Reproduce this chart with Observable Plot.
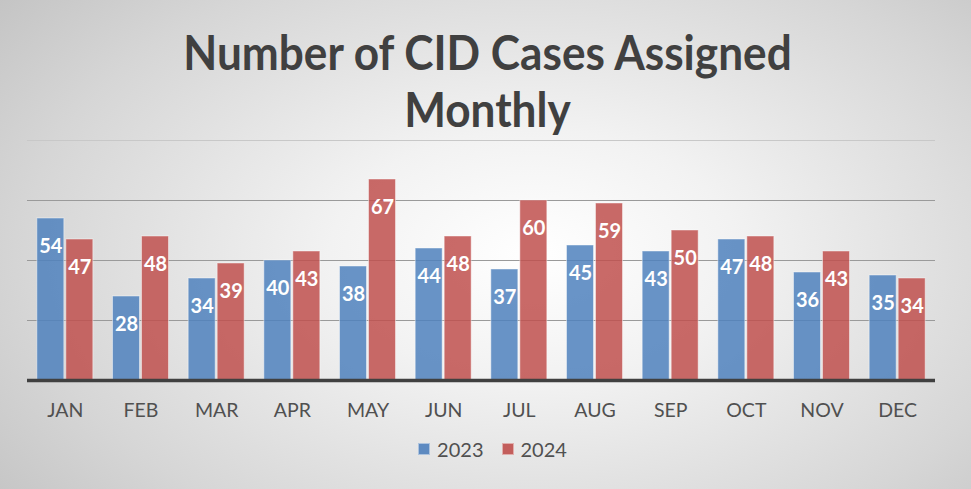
<!DOCTYPE html>
<html>
<head>
<meta charset="utf-8">
<script src="https://cdn.jsdelivr.net/npm/d3@7"></script>
<script src="https://cdn.jsdelivr.net/npm/@observablehq/plot@0.6"></script>
<style>
  html, body { margin: 0; padding: 0; }
  #chart {
    position: relative; width: 971px; height: 489px; overflow: hidden;
    background: radial-gradient(ellipse 70% 85% at 55% 52%, #ffffff 0%, #f2f2f2 30%, #d6d6d6 75%, #c4c4c4 100%);
    font-family: Lato, "Open Sans", sans-serif;
  }
  #title {
    position: absolute; left: 2px; top: 23px; width: 971px; text-align: center;
    font-weight: bold; font-size: 48px; line-height: 57px; color: #404040;
    transform: scaleX(0.92); transform-origin: 50% 50%;
  }
  #plot { position: absolute; left: 0; top: 0; }
  #legend {
    position: absolute; top: 437px; left: 0; width: 985px;
    display: flex; justify-content: center; gap: 18px;
    font-size: 20px; color: #505050;
  }
  .item { display: flex; align-items: center; gap: 7px; }
  .sw { width: 12px; height: 12px; box-sizing: border-box; border: 1px solid rgba(255,255,255,0.5); }
</style>
</head>
<body>
<div id="chart">
  <div id="plot"></div>
  <div id="title">Number of CID Cases Assigned<br>Monthly</div>
  <div id="legend"></div>
</div>
<script>
const months = ["JAN","FEB","MAR","APR","MAY","JUN","JUL","AUG","SEP","OCT","NOV","DEC"];
const cases2023 = [54,28,34,40,38,44,37,45,43,47,36,35];
const cases2024 = [47,48,39,43,67,48,60,59,50,48,43,34];
const years = ["2023","2024"];
const colors = ["#4f81bd","#c0504d"];
const gridTicks = [20,40,60];
const topTick = [80];

const data23 = months.map((m,i)=>({month:m, value:cases2023[i]}));
const data24 = months.map((m,i)=>({month:m, value:cases2024[i]}));

const chart = Plot.plot({
  width: 971, height: 489,
  marginLeft: 27, marginRight: 36, marginTop: 140, marginBottom: 109,
  style: {background: "transparent", fontFamily: "Lato, sans-serif", fontSize: "19.5px", color: "#505050"},
  x: {domain: months, paddingInner: 0.26, paddingOuter: 0.13, round: false, label: null, tickSize: 0, tickPadding: 23},
  y: {domain: [0, 80], axis: null},
  marks: [
    Plot.ruleY(gridTicks, {stroke: "#9a9a9a", strokeWidth: 1.2}),
    Plot.ruleY(topTick, {stroke: "#c8c8c8", strokeWidth: 1.2}),
    Plot.barY(data23, {x: "month", y: "value", fill: colors[0], fillOpacity: 0.85, insetRight: 29, stroke: "#ffffff", strokeOpacity: 0.45}),
    Plot.barY(data24, {x: "month", y: "value", fill: colors[1], fillOpacity: 0.85, insetLeft: 29, stroke: "#ffffff", strokeOpacity: 0.45}),
    Plot.ruleY([0], {stroke: "#404040", strokeWidth: 3.5}),
    Plot.text(data23, {x: "month", y: "value", text: d => String(d.value), dx: -14.5, dy: 28, fill: "white", fontWeight: "bold", fontSize: 20}),
    Plot.text(data24, {x: "month", y: "value", text: d => String(d.value), dx: 14.5, dy: 28, fill: "white", fontWeight: "bold", fontSize: 20})
  ]
});
document.getElementById("plot").appendChild(chart);

const legend = document.getElementById("legend");
years.forEach((y, i) => {
  const item = document.createElement("div");
  item.className = "item";
  const sw = document.createElement("div");
  sw.className = "sw";
  sw.style.background = colors[i];
  sw.style.opacity = 0.9;
  const t = document.createElement("span");
  t.textContent = y;
  item.appendChild(sw); item.appendChild(t);
  legend.appendChild(item);
});
</script>
</body>
</html>
